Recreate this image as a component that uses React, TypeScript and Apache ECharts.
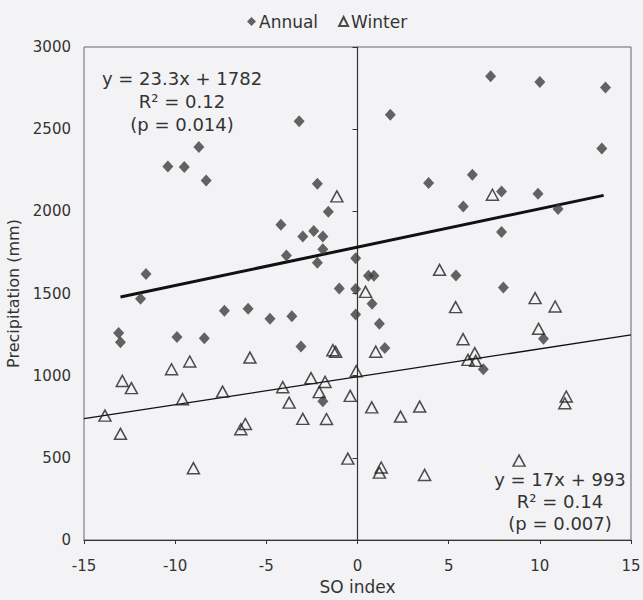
import React, { useEffect, useRef } from "react";
import * as echarts from "echarts";

const annualX = [-13.1, -13.0, -11.6, -11.9, -10.4, -9.5, -8.7, -8.3, -9.9, -8.4, -7.3, -6.0, -4.8, -3.6, -3.1, -3.2, -4.2, -3.0, -2.4, -1.9, -1.9, -3.9, -2.2, -2.2, -1.6, -1.0, -0.1, -0.1, -0.1, -1.9, 0.6, 0.9, 0.8, 1.2, 1.5, 1.8, 3.9, 5.8, 6.3, 5.4, 6.9, 7.3, 7.9, 7.9, 8.0, 9.9, 10.0, 10.2, 11.0, 13.4, 13.6];
const annualY = [1259, 1204, 1618, 1468, 2273, 2270, 2391, 2188, 1236, 1228, 1395, 1407, 1346, 1362, 1177, 2548, 1918, 1847, 1880, 1847, 1770, 1731, 1687, 2168, 1998, 1530, 1715, 1527, 1372, 845, 1608, 1608, 1437, 1316, 1169, 2588, 2172, 2030, 2223, 1610, 1039, 2822, 2121, 1874, 1537, 2107, 2787, 1224, 2014, 2383, 2753];

const winterX = [-13.85, -12.9, -12.4, -13.0, -10.2, -9.2, -9.6, -9.0, -7.4, -5.9, -6.15, -6.4, -4.1, -3.75, -3.0, -2.55, -1.78, -2.1, -1.7, -1.35, -1.2, -1.13, -0.4, -0.53, -0.07, 0.44, 1.0, 0.78, 1.3, 1.2, 2.36, 3.41, 3.68, 4.5, 5.38, 5.79, 6.43, 6.06, 6.48, 7.4, 8.86, 9.74, 9.93, 10.84, 11.45, 11.37];
const winterY = [757, 968, 924, 646, 1039, 1086, 857, 437, 903, 1110, 706, 674, 930, 836, 737, 985, 962, 900, 736, 1155, 1145, 2091, 877, 495, 1027, 1510, 1146, 807, 441, 410, 751, 812, 396, 1644, 1417, 1222, 1137, 1096, 1090, 2101, 483, 1472, 1285, 1421, 873, 832];

// Trend line endpoints
const annualTrendX = [-13, 13.5];
const annualTrendY = [1479, 2097];
const winterTrendX = [-15, 15];
const winterTrendY = [738, 1248];

const annualLabel = ["y = 23.3x + 1782", "R² = 0.12", "(p = 0.014)"];
const winterLabel = ["y = 17x + 993", "R² = 0.14", "(p = 0.007)"];

const zip = (xs: number[], ys: number[]) => xs.map((x, i) => [x, ys[i]]);

export default function App() {
  const ref = useRef<HTMLDivElement>(null);
  useEffect(() => {
    if (!ref.current) return;
    const chart = echarts.init(ref.current, undefined, { renderer: "svg" });
    const font = "DejaVu Sans, Verdana, sans-serif";
    chart.setOption({
      animation: false,
      backgroundColor: "#f3f3f5",
      textStyle: { fontFamily: font },
      legend: {
        top: 8,
        left: 242,
        itemWidth: 9,
        itemHeight: 9,
        itemGap: 20,
        textStyle: { fontSize: 17, color: "#333", fontFamily: font, padding: [0, 0, 0, -2] },
        data: ["Annual", "Winter"],
      },
      grid: {
        left: 84,
        right: 12,
        top: 47,
        bottom: 60,
        show: true,
        borderColor: "#666",
        borderWidth: 1,
        backgroundColor: "transparent",
        outerBoundsMode: "none",
        containLabel: false,
      },
      xAxis: {
        type: "value",
        min: -15,
        max: 15,
        interval: 5,
        name: "SO index",
        nameLocation: "middle",
        nameGap: 38,
        nameTextStyle: { fontSize: 17, color: "#333", fontFamily: font },
        axisLine: { show: true, onZero: false, lineStyle: { color: "#333" } },
        axisTick: { show: true, inside: false, length: 4, lineStyle: { color: "#333" } },
        axisLabel: { fontSize: 15, color: "#333", margin: 18, fontFamily: font },
        splitLine: { show: false },
      },
      yAxis: [
        {
          type: "value",
          min: 0,
          max: 3000,
          interval: 500,
          name: "Precipitation (mm)",
          nameLocation: "middle",
          nameGap: 58,
          nameTextStyle: { fontSize: 16, color: "#333", fontFamily: font },
          axisLine: { show: false },
          axisTick: { show: false },
          axisLabel: { fontSize: 15, color: "#333", margin: 13, fontFamily: font, formatter: (v: number) => String(v) },
          splitLine: { show: false },
        },
        {
          type: "value",
          min: 0,
          max: 3000,
          interval: 500,
          position: "left",
          axisLine: { show: true, onZero: true, onZeroAxisIndex: 0, lineStyle: { color: "#333", width: 1.2 } },
          axisTick: { show: true, length: 5, lineStyle: { color: "#333" } },
          axisLabel: { show: false },
          splitLine: { show: false },
        },
      ],
      series: [
        {
          name: "Annual",
          type: "scatter",
          data: zip(annualX, annualY),
          symbol: "diamond",
          symbolSize: [11, 12],
          itemStyle: { color: "#3d3d3d" },
          z: 3,
        },
        {
          name: "Winter",
          type: "scatter",
          data: zip(winterX, winterY),
          symbol: "triangle",
          symbolSize: [12, 11],
          itemStyle: { color: "rgba(255,255,255,0)", borderColor: "#222", borderWidth: 1.5 },
          z: 3,
        },
        {
          name: "AnnualTrend",
          type: "line",
          data: zip(annualTrendX, annualTrendY),
          showSymbol: false,
          symbol: "none",
          lineStyle: { color: "#111", width: 3 },
          z: 2,
          silent: true,
        },
        {
          name: "WinterTrend",
          type: "line",
          data: zip(winterTrendX, winterTrendY),
          showSymbol: false,
          symbol: "none",
          lineStyle: { color: "#111", width: 1.3 },
          z: 2,
          silent: true,
        },
      ],
      graphic: [
        {
          type: "text",
          x: 182,
          y: 67,
          style: {
            text: annualLabel.join("\n"),
            font: `18px ${font}`,
            fill: "#333",
            align: "center",
            lineHeight: 23,
          },
        },
        {
          type: "text",
          x: 560,
          y: 468,
          style: {
            text: winterLabel.join("\n"),
            font: `18px ${font}`,
            fill: "#333",
            align: "center",
            lineHeight: 22,
          },
        },
      ],
    });
    return () => chart.dispose();
  }, []);
  return (
    <div
      ref={ref}
      style={{ position: "absolute", left: 0, top: 0, width: 643, height: 600 }}
    />
  );
}
